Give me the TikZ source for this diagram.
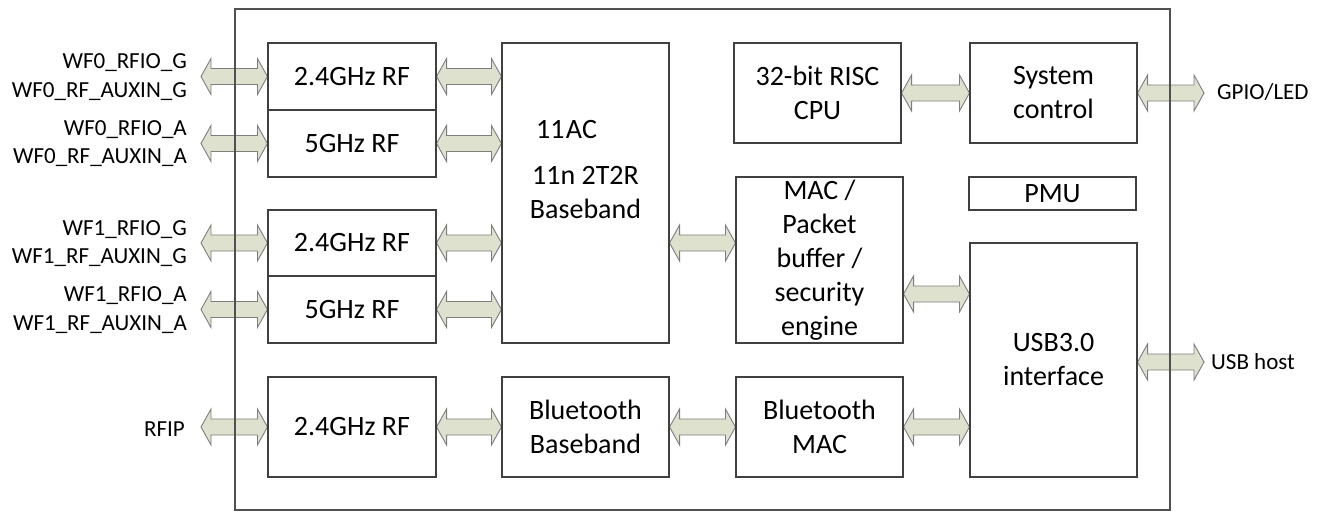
\documentclass[tikz,border=0pt]{standalone}
\usepackage{fontspec}
\setmainfont{Carlito}
\usetikzlibrary{calc}
\definecolor{arrfill}{RGB}{221,225,206}
\definecolor{arrline}{RGB}{125,125,125}
\definecolor{boxline}{RGB}{64,64,64}
\definecolor{frameline}{RGB}{80,80,80}
\pgfdeclarelayer{bg}
\pgfsetlayers{bg,main}
\tikzset{
  blk/.style={draw=boxline, line width=1.1pt, minimum width=167pt, inner sep=0pt,
    align=center, font=\fontsize{28}{34}\selectfont},
  pinlbl/.style={font=\fontsize{23}{28.5}\selectfont, inner sep=0pt},
  barr/.style={draw=arrline, fill=arrfill, line width=0.9pt, line join=miter},
}
\newcommand{\dbl}[2]{%
  \begin{pgfonlayer}{bg}
  \path[barr] let \p1=(#1), \p2=(#2) in
    (\x1,\y1) -- (\x1+10pt,\y1+18pt) -- (\x1+10pt,\y1+8pt) -- (\x2-10pt,\y1+8pt)
    -- (\x2-10pt,\y1+18pt) -- (\x2,\y1) -- (\x2-10pt,\y1-18pt) -- (\x2-10pt,\y1-8pt)
    -- (\x1+10pt,\y1-8pt) -- (\x1+10pt,\y1-18pt) -- cycle;
  \end{pgfonlayer}}
\begin{document}
\begin{tikzpicture}[x=1pt,y=-1pt]
\useasboundingbox (0,0) rectangle (1323,512);
% chip frame
\node[draw=frameline, line width=1.1pt, minimum width=935pt, minimum height=501pt, inner sep=0pt] (chip) at (702.5,259.5) {};
% blocks
\node[blk, minimum width=168pt, minimum height=67pt] (rf1) at (352,76.5) {2.4GHz RF};
\node[blk, minimum width=168pt, minimum height=67pt] (rf2) at (352,143.5) {5GHz RF};
\node[blk, minimum width=168pt, minimum height=66pt] (rf3) at (352,243) {2.4GHz RF};
\node[blk, minimum width=168pt, minimum height=67pt] (rf4) at (352,309.5) {5GHz RF};
\node[blk, minimum width=168pt, minimum height=100pt] (rfbt) at (352,427) {2.4GHz RF};
\node[blk, minimum height=300pt] (bb) at (585.5,193) {11n 2T2R\\Baseband};
\node[font=\fontsize{28}{34}\selectfont, inner sep=0pt] (ac) at (566.5,130) {11\kern1.5pt AC};
\node[blk, minimum height=100pt] (btbb) at (585.5,427) {Bluetooth\\Baseband};
\node[blk, minimum height=100pt] (cpu) at (817.5,93) {32-bit RISC\\CPU};
\node[blk, minimum height=100pt] (sys) at (1053.5,93) {System\\control};
\node[blk, minimum height=33pt] (pmu) at (1052.5,193.5) {PMU};
\node[blk, minimum height=166pt] (mac) at (819.5,260) {MAC /\\Packet\\buffer /\\security\\engine};
\node[blk, minimum height=100pt] (btmac) at (819.5,427) {Bluetooth\\MAC};
\node[blk, minimum height=234pt] (usb) at (1053.5,360) {USB3.0\\interface};
% pin labels
\node[pinlbl, anchor=east, align=right] (l1) at (187,77) {WF0\_RFIO\_G\\WF0\_RF\_AUXIN\_G};
\node[pinlbl, anchor=east, align=right] (l2) at (187,143.5) {WF0\_RFIO\_A\\WF0\_RF\_AUXIN\_A};
\node[pinlbl, anchor=east, align=right] (l3) at (187,243.5) {WF1\_RFIO\_G\\WF1\_RF\_AUXIN\_G};
\node[pinlbl, anchor=east, align=right] (l4) at (187,310) {WF1\_RFIO\_A\\WF1\_RF\_AUXIN\_A};
\node[pinlbl, anchor=east] (l5) at (185,429) {RFIP};
\node[pinlbl, anchor=west] (r1) at (1217,92) {GPIO/LED};
\node[pinlbl, anchor=west] (r2) at (1211,362) {USB host};
% free ends of pin arrows
\coordinate (p1) at (201,76.5);
\coordinate (p2) at (201,143.5);
\coordinate (p3) at (201,243);
\coordinate (p4) at (201,309.5);
\coordinate (p5) at (201,427);
\coordinate (q1) at (1204,93);
\coordinate (q2) at (1204,362);
% arrows
\dbl{p1}{rf1.west}
\dbl{p2}{rf2.west}
\dbl{p3}{rf3.west}
\dbl{p4}{rf4.west}
\dbl{p5}{rfbt.west}
\dbl{rf1.east}{rf1.east -| bb.west}
\dbl{rf2.east}{rf2.east -| bb.west}
\dbl{rf3.east}{rf3.east -| bb.west}
\dbl{rf4.east}{rf4.east -| bb.west}
\dbl{rfbt.east}{btbb.west}
\dbl{btbb.east}{btmac.west}
\dbl{bb.east |- 0,243}{mac.west |- 0,243}
\dbl{mac.east |- 0,294}{usb.west |- 0,294}
\dbl{btmac.east}{btmac.east -| usb.west}
\dbl{cpu.east}{sys.west}
\dbl{sys.east}{q1}
\dbl{usb.east |- q2}{q2}
\end{tikzpicture}
\end{document}
